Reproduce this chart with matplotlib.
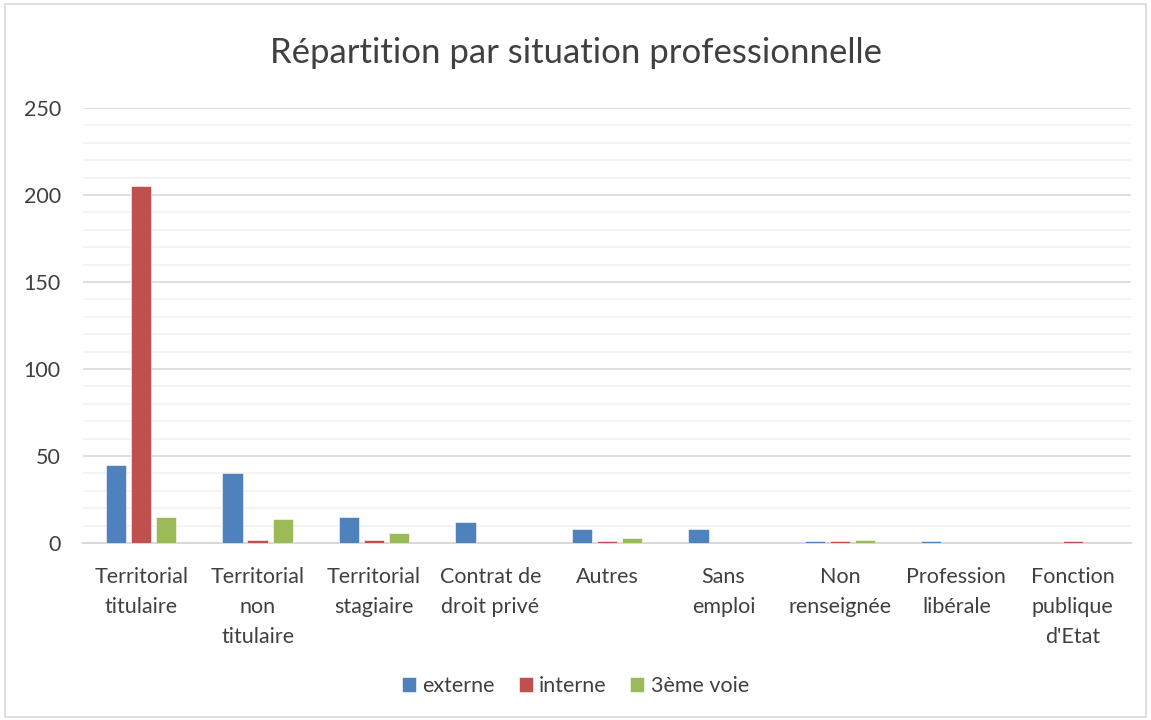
import numpy as np
import matplotlib
matplotlib.use("Agg")
import matplotlib.pyplot as plt
from matplotlib.patches import Rectangle

plt.rcParams['font.family'] = ['Lato', 'DejaVu Sans']

categories = ["Territorial\ntitulaire", "Territorial\nnon\ntitulaire", "Territorial\nstagiaire",
              "Contrat de\ndroit privé", "Autres", "Sans\nemploi", "Non\nrenseignée",
              "Profession\nlibérale", "Fonction\npublique\nd'Etat"]
externe = [45, 40, 15, 12, 8, 8, 1, 1, 0]
interne = [205, 2, 2, 0, 1, 0, 1, 0, 1]
troisieme = [15, 14, 6, 0, 3, 0, 2, 0, 0]
series_names = ["externe", "interne", "3ème voie"]
colors = ["#4F81BD", "#C0504D", "#9BBB59"]

fig = plt.figure(figsize=(11.51, 7.2), dpi=100)
fig.patches.append(Rectangle((0.004, 0.004), 0.992, 0.99, transform=fig.transFigure,
                             fill=False, edgecolor="#d9d9d9", linewidth=1.2))
ax = fig.add_axes([83 / 1151, 1 - 543 / 720, 1048 / 1151, 435 / 720])

x = np.arange(len(categories))
w = 0.175
off = 0.215
for i, (vals, name, c) in enumerate(zip([externe, interne, troisieme], series_names, colors)):
    ax.bar(x + (i - 1) * off, vals, width=w, color=c, label=name, zorder=3,
           edgecolor="white", linewidth=0.4)

ax.set_xlim(-0.5, len(categories) - 0.5)
ax.set_ylim(0, 250)
ax.set_yticks(range(0, 251, 50))
ax.set_yticks(range(0, 251, 10), minor=True)
ax.grid(axis="y", which="major", color="#d9d9d9", linewidth=1.2, zorder=0)
ax.grid(axis="y", which="minor", color="#f2f2f2", linewidth=1.2, zorder=0)
for s in ["top", "right", "left"]:
    ax.spines[s].set_visible(False)
ax.spines["bottom"].set_color("#d9d9d9")
ax.spines["bottom"].set_linewidth(1.5)
ax.tick_params(axis="both", which="both", length=0, labelsize=15.5, colors="#404040")
ax.tick_params(axis="y", pad=16)
ax.tick_params(axis="x", pad=17)
ax.set_xticks(x)
ax.set_xticklabels(categories, linespacing=1.65)

fig.text(0.5, 1 - 53 / 720, "Répartition par situation professionnelle", ha="center", va="center",
         fontsize=25, color="#404040")
fig.legend(loc="center", bbox_to_anchor=(0.5, 1 - 686 / 720), ncol=3, frameon=False,
           fontsize=15.5, handlelength=0.65, handleheight=0.65, handletextpad=0.3, columnspacing=1.1,
           labelcolor="#404040")

fig.savefig("out.png", dpi=100)
